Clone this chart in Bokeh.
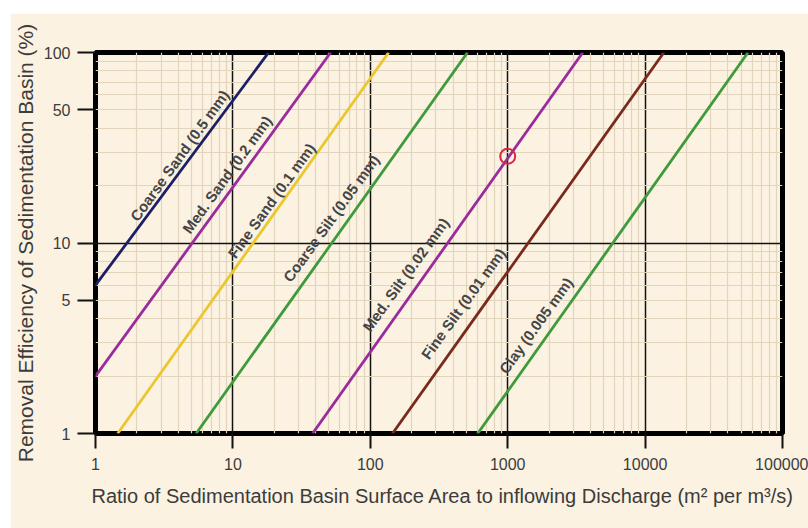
from bokeh.plotting import figure
from bokeh.models import FixedTicker, ColumnDataSource, Title
from bokeh.core.properties import value
from bokeh.embed import file_html
from bokeh.resources import INLINE

# ---- data ----
names = ["Coarse Sand (0.5 mm)", "Med. Sand (0.2 mm)", "Fine Sand (0.1 mm)",
         "Coarse Silt (0.05 mm)", "Med. Silt (0.02 mm)", "Fine Silt (0.01 mm)",
         "Clay (0.005 mm)"]
x_start = [1, 1, 1.45, 5.4, 38, 145, 605]
y_start = [6.0, 2.0, 1, 1, 1, 1, 1]
x_end = [18.2, 51.5, 136, 510, 3520, 13700, 56100]
y_end = [100, 100, 100, 100, 100, 100, 100]
colors = ["#1c1f66", "#9a2b9c", "#ecc62e", "#3f9a3c", "#9a2b9c", "#7a2a1c", "#3f9a3c"]

label_x = [4.09, 9.07, 19.1, 51.9, 181, 475, 1603]
label_y = [28.8, 22.9, 16.7, 13.5, 6.83, 4.81, 3.69]

marker_x = [1000]
marker_y = [28.5]

x_ticks = [1, 10, 100, 1000, 10000, 100000]
x_tick_labels = ["1", "10", "100", "1000", "10000", "100000"]
y_ticks = [1, 5, 10, 50, 100]
y_tick_labels = ["1", "5", "10", "50", "100"]
x_grid_major = [1, 10, 100, 1000, 10000, 100000]
y_grid_major = [1, 10, 100]
minor_steps = [2, 3, 4, 5, 6, 7, 8, 9]

x_title = "Ratio of Sedimentation Basin Surface Area to inflowing Discharge (m\u00b2 per m\u00b3/s)"
y_title = "Removal Efficiency of Sedimentation Basin (%)"

CREAM = "#fbf2e2"
FONT = "Liberation Sans"
TXT = "#3c3c3c"

p = figure(width=798, height=515, x_axis_type="log", y_axis_type="log",
           x_range=(1, 100000), y_range=(1, 100),
           output_backend="svg", toolbar_location=None,
           min_border_left=85, min_border_top=39, min_border_right=26, min_border_bottom=95,
           background_fill_color=CREAM, border_fill_color=CREAM)
p.margin = (13, 0, 0, 10)

p.outline_line_color = "black"
p.outline_line_width = 5

x_minor = [m * d for d in x_grid_major[:-1] for m in minor_steps]
y_minor = [m * d for d in y_grid_major[:-1] for m in minor_steps]
p.xgrid.ticker = FixedTicker(ticks=x_grid_major, minor_ticks=x_minor)
p.ygrid.ticker = FixedTicker(ticks=y_grid_major, minor_ticks=y_minor)
for g in (p.xgrid, p.ygrid):
    g.grid_line_color = "#111111"
    g.grid_line_width = 1.5
    g.minor_grid_line_color = "#e3d5bd"
    g.minor_grid_line_width = 1.2

p.xaxis.ticker = FixedTicker(ticks=x_ticks, minor_ticks=[])
p.yaxis.ticker = FixedTicker(ticks=y_ticks, minor_ticks=[])
p.xaxis.major_label_overrides = {float(t): l for t, l in zip(x_ticks, x_tick_labels)}
p.yaxis.major_label_overrides = {float(t): l for t, l in zip(y_ticks, y_tick_labels)}

for ax, out, so in ((p.xaxis, 15, 9), (p.yaxis, 18, 7)):
    ax.axis_line_color = None
    ax.major_tick_in = 0
    ax.major_tick_out = out
    ax.major_tick_line_color = "#111111"
    ax.major_tick_line_width = 2
    ax.minor_tick_in = 0
    ax.minor_tick_out = 0
    ax.major_label_text_font = FONT
    ax.major_label_text_font_size = "16px"
    ax.major_label_text_color = TXT
    ax.major_label_standoff = so

p.yaxis.axis_label = y_title
p.yaxis.axis_label_text_font = FONT
p.yaxis.axis_label_text_font_style = "normal"
p.yaxis.axis_label_text_color = TXT
p.yaxis.axis_label_text_font_size = "21px"
p.yaxis.axis_label_standoff = 4

# x-axis title: in the original it starts at the frame's left edge
p.add_layout(Title(text=x_title, align="left", offset=-4, standoff=20,
                   text_font=FONT, text_font_size="20px", text_font_style="normal",
                   text_color=TXT), "below")

for i in range(len(names)):
    p.line([x_start[i], x_end[i]], [y_start[i], y_end[i]], line_color=colors[i], line_width=2.8)

p.scatter(marker_x, marker_y, marker="circle", size=15, fill_color=None,
          line_color="#d62a3e", line_width=2)

src = ColumnDataSource(dict(x=label_x, y=label_y, t=names))
p.text(x="x", y="y", text="t", source=src, angle=54.2, angle_units="deg",
       text_align="center", text_baseline="middle",
       text_font=value(FONT), text_font_size="15px", text_font_style="bold",
       text_color="#454545")

open("out.html", "w").write(file_html(p, INLINE))
